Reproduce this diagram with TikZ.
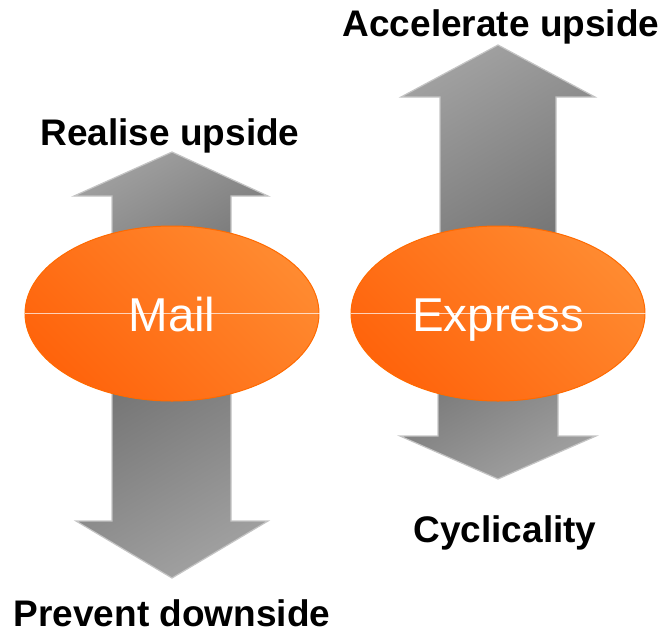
\documentclass[tikz,border=0pt]{standalone}
\usepackage{fontspec}
\setmainfont{Liberation Sans}
\usepackage{tikz}
\usetikzlibrary{positioning, shapes.geometric}

\definecolor{arrowlight}{HTML}{A0A0A0}
\definecolor{arrowdark}{HTML}{6C6C6C}
\definecolor{arrowedge}{HTML}{C4C4C4}
\definecolor{orangelight}{HTML}{FF8A30}
\definecolor{orangedark}{HTML}{FF640C}
\definecolor{orangeedge}{HTML}{FF6A00}

\begin{document}
\begin{tikzpicture}[x=1pt, y=-1pt, bigarrow/.style={draw=arrowedge, line width=1.2pt, line join=miter}, uparrow/.style={bigarrow, left color=arrowdark, right color=arrowlight, shading angle=210}, downarrow/.style={bigarrow, left color=arrowdark, right color=arrowlight, shading angle=30}, blob/.style={ellipse, draw=orangeedge, line width=1pt, left color=orangedark, right color=orangelight, shading angle=135, minimum width=294pt, minimum height=175pt, inner sep=0pt}, captionnode/.style={font=\fontsize{37}{40}\selectfont\bfseries, anchor=base, inner sep=0pt}, blobtext/.style={font=\fontsize{47.5}{50}\selectfont, text=white, anchor=base, inner sep=0pt}]

    \useasboundingbox (0,0) rectangle (666,635);

    %Arrows
    \draw[uparrow] (112,313) -- (112,196) -- (74,196) -- (172,152) -- (268,196) -- (231,196) -- (231,313) -- cycle;
    \draw[downarrow] (112,313) -- (112,521) -- (76,521) -- (172,578) -- (268,521) -- (231,521) -- (231,313) -- cycle;
    \draw[uparrow] (440,313) -- (440,97) -- (401,97) -- (498,45) -- (595,97) -- (556,97) -- (556,313) -- cycle;
    \draw[downarrow] (438,313) -- (438,436) -- (400,436) -- (498,479) -- (596,436) -- (558,436) -- (558,313) -- cycle;

    %Nodes
    \node[blob](mail) at (172,313.5){};
    \node[blob](express) at (498,313.5){};
    \draw[white, opacity=0.7, line width=0.6pt] (mail.west) -- (mail.east);
    \draw[white, opacity=0.7, line width=0.6pt] (express.west) -- (express.east);
    \node[blobtext](mail_text) at (172,331){Mail};
    \node[blobtext](express_text) at (498,331){Express};

    %Labels
    \node[captionnode](accelerate) at (501,36){Accelerate upside};
    \node[captionnode](realise) at (170,145){Realise upside};
    \node[captionnode](cyclicality) at (505,542){Cyclicality};
    \node[captionnode](prevent) at (172,626){Prevent downside};

\end{tikzpicture}
\end{document}
